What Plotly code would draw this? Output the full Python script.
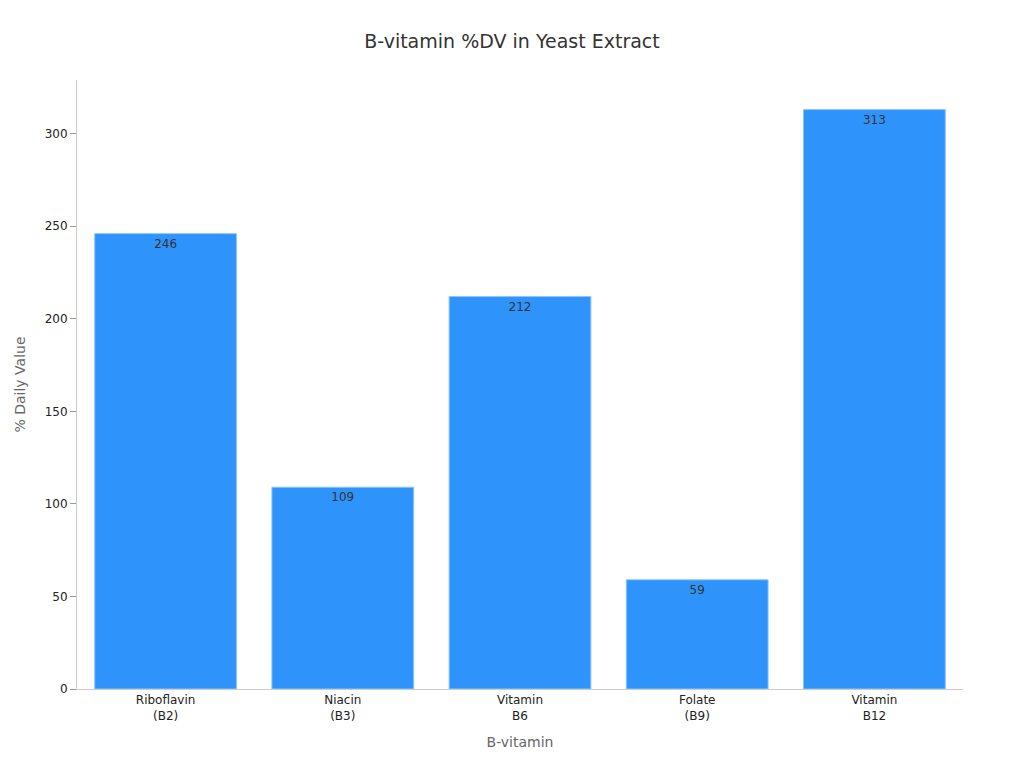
import plotly.graph_objects as go

categories = ["Riboflavin<br>(B2)", "Niacin<br>(B3)", "Vitamin<br>B6", "Folate<br>(B9)", "Vitamin<br>B12"]
values = [246, 109, 212, 59, 313]

fig = go.Figure(go.Bar(
    x=categories, y=values, text=values, textposition="inside",
    insidetextanchor="end", textfont=dict(color="#333", size=12),
    marker=dict(color="#2E93FA", line=dict(color="#8cc4fc", width=1)),
    width=0.8,
))
fig.update_layout(
    width=1008, height=752, plot_bgcolor="white", paper_bgcolor="white",
    font=dict(family="DejaVu Sans", color="#222", size=12),
    title=dict(text="B-vitamin %DV in Yeast Extract", x=0.5, xanchor="center", y=0.965,
               font=dict(size=19, color="#333")),
    margin=dict(l=60, r=53, t=72, b=69),
    showlegend=False,
)
fig.update_xaxes(title=dict(text="B-vitamin", font=dict(color="#666", size=14)),
                 showline=True, linecolor="#ccc", ticks="", showgrid=False)
fig.update_yaxes(title=dict(text="% Daily Value", font=dict(color="#666", size=14)),
                 range=[0, 329], showline=True, linecolor="#ccc", ticks="outside",
                 tickcolor="#999", ticklen=6, showgrid=False, dtick=50, zeroline=False)
fig.write_html("out.html")
